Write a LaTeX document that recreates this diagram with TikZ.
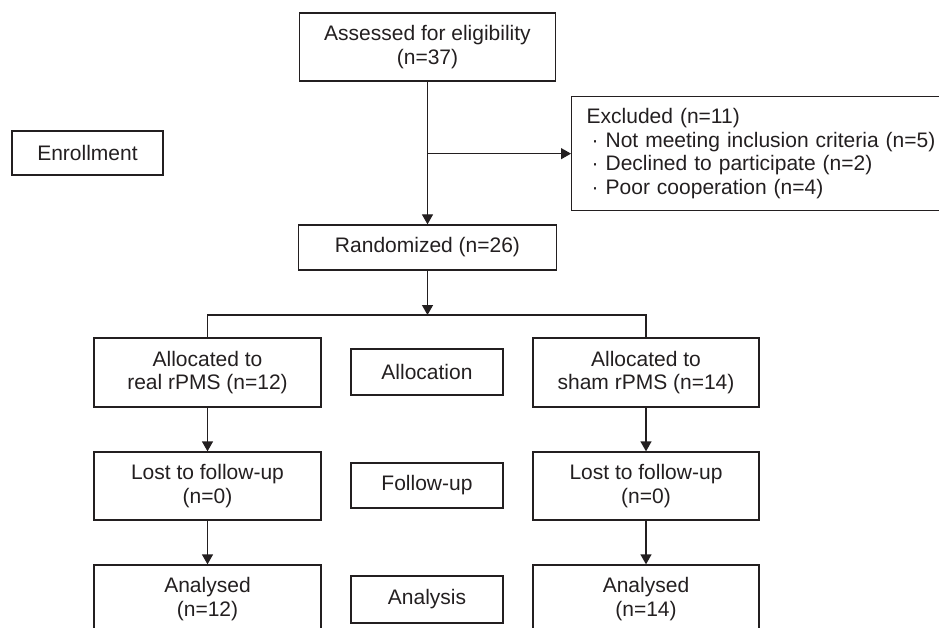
\documentclass[tikz,border=0pt]{standalone}
\usepackage{fontspec}
\setmainfont{Liberation Sans}
\usetikzlibrary{arrows.meta}
\definecolor{ink}{RGB}{35,31,32}
\begin{document}
\begin{tikzpicture}[x=1pt,y=-1pt,
  box/.style={draw=ink,line width=1.3pt,rectangle,inner sep=0pt,align=center,text=ink,
    font=\fontsize{21}{23.5}\selectfont},
  arr/.style={draw=ink,line width=1.3pt,-{Triangle[length=10pt,width=11pt]}},
  ln/.style={draw=ink,line width=1.3pt}]
\begin{scope}
\clip (0,0) rectangle (939,628);
\node[box,minimum width=256pt,minimum height=68pt] (assess) at (427.5,47) {Assessed for eligibility\\(n=37)};
\node[box,anchor=north west,minimum height=114pt,text width=374pt,inner xsep=15pt,align=left] (excl) at (571,96)
  {Excluded (n=11)\\\hspace*{5pt}· Not meeting inclusion criteria (n=5)\\\hspace*{5pt}· Declined to participate (n=2)\\\hspace*{5pt}· Poor cooperation (n=4)};
\node[box,minimum width=151pt,minimum height=44pt] (enroll) at (87.5,153) {Enrollment};
\node[box,minimum width=258pt,minimum height=45pt] (rand) at (427.5,247.5) {Randomized (n=26)};
\coordinate (split) at (427.5,315);
\node[box,minimum width=227pt,minimum height=69pt] (allocL) at (207.5,372.5) {Allocated to\\real rPMS (n=12)};
\node[box,minimum width=152pt,minimum height=46pt] (allocM) at (427,372) {Allocation};
\node[box,minimum width=226pt,minimum height=69pt] (allocR) at (646,372.5) {Allocated to\\sham rPMS (n=14)};
\node[box,minimum width=227pt,minimum height=68pt] (lostL) at (207.5,486) {Lost to follow-up\\(n=0)};
\node[box,minimum width=152pt,minimum height=45pt] (fuM) at (427,485.5) {Follow-up};
\node[box,minimum width=226pt,minimum height=68pt] (lostR) at (646,486) {Lost to follow-up\\(n=0)};
\node[box,minimum width=227pt,minimum height=68pt] (anL) at (207.5,599) {Analysed\\(n=12)};
\node[box,minimum width=152pt,minimum height=47pt] (anM) at (427,599.5) {Analysis};
\node[box,minimum width=226pt,minimum height=68pt] (anR) at (646,599) {Analysed\\(n=14)};
\draw[arr] (assess.south) -- (rand.north);
\draw[arr] (assess.south |- excl.west) -- (excl.west);
\draw[arr] (rand.south) -- (split);
\draw[ln] (allocL.north) -- (allocL.north |- split) -- (allocR.north |- split) -- (allocR.north);
\draw[arr] (allocL.south) -- (lostL.north);
\draw[arr] (lostL.south) -- (anL.north);
\draw[arr] (allocR.south) -- (lostR.north);
\draw[arr] (lostR.south) -- (anR.north);
\end{scope}
\pgfresetboundingbox
\path[use as bounding box] (0,0) rectangle (939,628);
\end{tikzpicture}
\end{document}
